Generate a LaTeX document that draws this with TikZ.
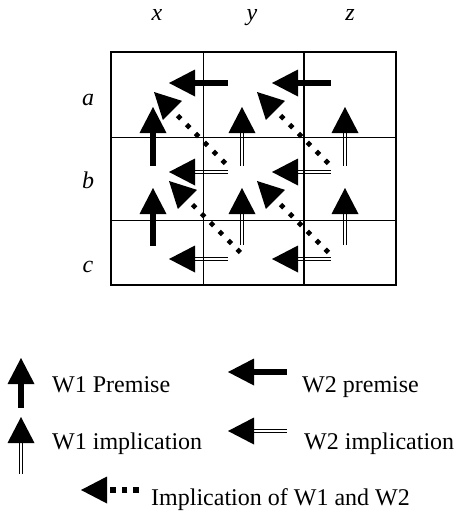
\documentclass[tikz,border=0pt]{standalone}
\usepackage{fontspec}
\setmainfont{Liberation Serif}
\begin{document}
\begin{tikzpicture}[x=1pt,y=-1pt,
  lbl/.style={inner sep=0pt,font=\fontsize{24}{28}\selectfont},
  axis/.style={lbl,font=\fontsize{24}{28}\selectfont\itshape,anchor=base},
  key/.style={lbl,anchor=base west},
  % arrows drawn pointing up with the tip at the origin; #1 = length to tail
  solidarrow/.pic={
    \fill (0,0) -- (-13.5,26) -- (13.5,26) -- cycle;
    \fill (-3.3,25) rectangle (3.3,#1);
  },
  doublearrow/.pic={
    \fill (0,0) -- (-13.5,26) -- (13.5,26) -- cycle;
    \draw[line width=1.2pt] (-1.8,25) -- (-1.8,#1) (1.8,25) -- (1.8,#1);
  },
  dotarrow/.pic={
    \fill (0,0) -- (-13.5,26) -- (13.5,26) -- cycle;
    \draw[dots] (0,#1) -- (0,26);
  },
  dots/.style={line width=4.6pt,dash pattern=on 4.6pt off 8pt},
]
\useasboundingbox (0,0) rectangle (457,512);

% grid
\draw[line width=1pt] (111,137) -- (396,137) (111,220) -- (396,220) (203,52) -- (203,285);
\draw[line width=1.5pt] (304,52) -- (304,285);
\draw[line width=1.4pt] (111,52) rectangle (396,285);

% column and row labels
\node[axis] (lx) at (157,20) {x};
\node[axis] (ly) at (252,20) {y};
\node[axis] (lz) at (350,20) {z};
\node[axis] (la) at (88,105) {a};
\node[axis] (lb) at (88,188) {b};
\node[axis] (lc) at (88,272) {c};

% W1 premises
\pic (p1a) at (153,107) {solidarrow=59};
\pic (p1b) at (153,188) {solidarrow=58};
% W1 implications
\pic (i1ay) at (242,107) {doublearrow=59};
\pic (i1az) at (345,107) {doublearrow=59};
\pic (i1by) at (242,188) {doublearrow=57};
\pic (i1bz) at (345,188) {doublearrow=57};
% W2 premises
\pic[rotate=90] (p2x) at (169,83) {solidarrow=59};
\pic[rotate=90] (p2y) at (272,83) {solidarrow=59};
% W2 implications
\pic[rotate=90] (i2bx) at (169,172) {doublearrow=59};
\pic[rotate=90] (i2by) at (272,172) {doublearrow=59};
\pic[rotate=90] (i2cx) at (169,259) {doublearrow=59};
\pic[rotate=90] (i2cy) at (272,259) {doublearrow=59};
% joint implications
\pic[rotate=45] (j1) at (154,92) {dotarrow=101};
\pic[rotate=45] (j2) at (257,92) {dotarrow=101};
\pic[rotate=45] (j3) at (169,181) {dotarrow=101};
\pic[rotate=45] (j4) at (257,181) {dotarrow=101};

% legend
\pic (k1) at (21,358) {solidarrow=50};
\node[key] (t1) at (52,392) {W1 Premise};
\pic (k2) at (21,417) {doublearrow=57};
\node[key] (t2) at (52,449) {W1 implication};
\pic[rotate=90] (k3) at (228,372) {solidarrow=59};
\node[key] (t3) at (302,392) {W2 premise};
\pic[rotate=90] (k4) at (228,431) {doublearrow=59};
\node[key] (t4) at (304,449) {W2 implication};
\pic[rotate=90,dots/.style={line width=5.6pt,dash pattern=on 5.6pt off 6pt}] (k5) at (81,490) {dotarrow=58};
\node[key] (t5) at (151,505) {Implication of W1 and W2};
\end{tikzpicture}
\end{document}
